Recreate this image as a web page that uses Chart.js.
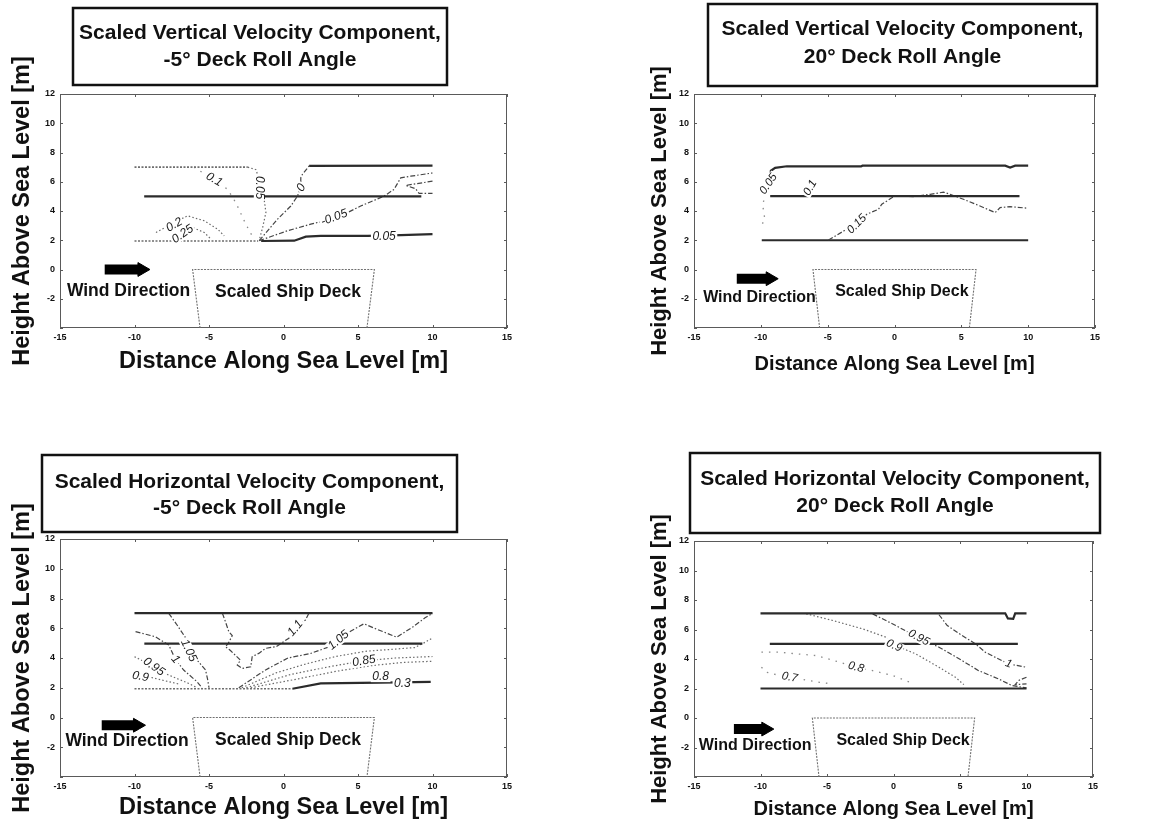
<!DOCTYPE html>
<html>
<head>
<meta charset="utf-8">
<script src="https://cdn.jsdelivr.net/npm/chart.js@4.4.1/dist/chart.umd.min.js"></script>
<style>
  html, body { margin: 0; padding: 0; background: #fff; }
  body { width: 1161px; height: 827px; position: relative; overflow: hidden; }
  .panel { position: absolute; }
</style>
</head>
<body>
<div class="panel" style="left:0px;top:0px"><canvas id="c1" width="580" height="413"></canvas></div>
<div class="panel" style="left:580px;top:0px"><canvas id="c2" width="581" height="413"></canvas></div>
<div class="panel" style="left:0px;top:413px"><canvas id="c3" width="580" height="414"></canvas></div>
<div class="panel" style="left:580px;top:413px"><canvas id="c4" width="581" height="414"></canvas></div>
<script>
// ---------------- shared axes ----------------
const xRange = [-15, 15];
const yRange = [-4, 12];
const xTickStep = 5;
const yTickStep = 2;
const yHiddenTick = -4;
const xAxisTitle = 'Distance Along Sea Level [m]';
const yAxisTitle = 'Height Above Sea Level [m]';
const deckOutline = [[-5.6, -4], [-6.1, 0], [6.1, 0], [5.6, -4]];
const windText = 'Wind Direction';
const deckText = 'Scaled Ship Deck';

// ---------------- panel 1 : vertical, -5 deg ----------------
const v5Title = ['Scaled Vertical Velocity Component,', '-5\u00B0 Deck Roll Angle'];
const v5TopLeft = [[-10, 7.0], [-2.4, 7.0]];
const v5C005a = [[-2.4, 7.0], [-1.85, 6.83], [-1.63, 6.15], [-1.5, 5.5], [-1.3, 4.8], [-1.18, 3.9], [-1.4, 2.87], [-1.63, 2.0]];
const v5C010 = [[-6.0, 7.0], [-5.4, 6.6], [-4.65, 6.15], [-3.75, 5.48], [-3.2, 4.57], [-2.53, 3.1], [-1.97, 2.05]];
const v5C020 = [[-8.56, 2.53], [-7.55, 3.1], [-6.44, 3.67], [-5.32, 3.33], [-4.42, 2.76], [-3.98, 2.3]];
const v5C025 = [[-7.55, 1.97], [-6.8, 2.45], [-6.1, 2.87], [-5.32, 2.53], [-4.87, 2.08]];
const v5BottomLeft = [[-10, 1.95], [-1.7, 1.95]];
const v5Mid = [[-9.35, 5.0], [9.25, 5.0]];
const v5C000 = [[-1.63, 1.97], [-0.4, 3.44], [0.49, 4.34], [0.94, 5.02], [1.16, 5.7], [1.16, 6.27], [1.27, 6.5], [1.72, 7.08]];
const v5TopRight = [[1.72, 7.08], [10, 7.1]];
const v5CM005 = [[-1.63, 1.97], [0.27, 2.65], [1.83, 3.1], [3.62, 3.55], [5.18, 4.34], [6.75, 5.02], [7.42, 5.48], [7.87, 6.27], [8.54, 6.38], [10, 6.6]];
const v5CM010 = [[10, 6.04], [8.2, 5.75], [8.87, 5.52], [9.1, 5.2], [10, 5.2]];
const v5C005b = [[-1.5, 1.95], [0.72, 1.97], [1.5, 2.25], [2.5, 2.3], [5.63, 2.3], [7.87, 2.35], [10, 2.42]];
const v5LabelText = ['0.1', '0.05', '0', '0.2', '0.25', '-0.05', '0.05'];
const v5LabelPos = [[-4.65, 6.15], [-1.63, 5.6], [1.2, 5.6], [-7.33, 3.05], [-6.77, 2.42], [3.4, 3.55], [6.75, 2.26]];
const v5Arrow = [[-12, 0], [-9.5, 0]];
const v5WindPos = [-10.4, -1.5];
const v5DeckPos = [0.3, -1.54];

// ---------------- panel 2 : vertical, 20 deg ----------------
const v20Title = ['Scaled Vertical Velocity Component,', '20\u00B0 Deck Roll Angle'];
const v20Top = [[-9.3, 6.72], [-8.93, 6.95], [-8.05, 7.06], [-2.5, 7.05], [-2.4, 7.1], [8.28, 7.1], [8.65, 6.97], [9.03, 7.1], [10, 7.1]];
const v20C005 = [[-9.3, 6.72], [-9.5, 6.0], [-9.7, 5.2], [-9.85, 4.34], [-9.7, 3.44], [-9.9, 3.1]];
const v20Mid = [[-9.3, 5.02], [9.35, 5.02]];
const v20C015 = [[-4.94, 2.01], [-3.57, 2.76], [-2.82, 3.1], [-2.07, 3.78], [-1.2, 4.12], [-0.95, 4.46], [-0.2, 4.9], [0.05, 5.02], [1.42, 4.98], [2.67, 5.14], [3.67, 5.29], [4.16, 5.14], [5.16, 4.8], [6.4, 4.34], [7.53, 3.89], [7.9, 4.23], [8.65, 4.3], [10, 4.19]];
const v20Bottom = [[-9.93, 2.0], [10, 2.0]];
const v20LabelText = ['0.05', '0.1', '0.15'];
const v20LabelPos = [[-9.43, 5.85], [-6.31, 5.59], [-2.82, 3.1]];
const v20Arrow = [[-11.8, -0.63], [-9.3, -0.63]];
const v20WindPos = [-10.1, -1.9];
const v20DeckPos = [0.55, -1.54];

// ---------------- panel 3 : horizontal, -5 deg ----------------
const h5Title = ['Scaled Horizontal Velocity Component,', '-5\u00B0 Deck Roll Angle'];
const h5Top = [[-10, 7.02], [10, 7.02]];
const h5Mid = [[-9.34, 4.96], [9.32, 4.96]];
const h5BottomLeft = [[-10, 1.93], [0.6, 1.93]];
const h5BottomRight = [[0.6, 1.93], [2.5, 2.29], [6.52, 2.34], [9.88, 2.4]];
const h5C110 = [[-4.1, 7.0], [-3.9, 6.45], [-3.67, 5.77], [-3.44, 5.5], [-3.7, 5.0], [-3.9, 4.76], [-3.56, 4.5], [-2.89, 3.86], [-3.1, 3.53], [-2.77, 3.3], [-2.2, 3.41], [-2.1, 4.09], [-1.66, 4.31], [-1.2, 4.65], [-0.5, 4.76], [0.36, 5.33], [0.8, 6.0], [1.48, 6.56], [1.7, 7.0]];
const h5C105L = [[-7.7, 7.0], [-7.2, 6.3], [-6.47, 5.21], [-6.3, 4.6], [-5.8, 3.86], [-5.23, 3.19], [-5.1, 2.6], [-5.0, 2.0]];
const h5C100 = [[-9.93, 5.77], [-8.6, 5.43], [-7.7, 4.87], [-7.25, 3.9], [-6.7, 3.19], [-5.8, 2.4], [-5.47, 2.0]];
const h5C095 = [[-10, 4.09], [-8.7, 3.41], [-7.7, 2.85], [-6.36, 2.29], [-5.8, 2.0]];
const h5C090 = [[-9.1, 2.75], [-8.14, 2.51], [-7.0, 2.25]];
const h5C105R = [[-3.0, 2.0], [-1.2, 3.2], [0.3, 4.0], [1.8, 4.3], [3.2, 4.8], [3.7, 5.2], [4.5, 5.8], [5.4, 6.3], [6.1, 6.0], [7.6, 5.4], [8.7, 6.1], [9.5, 6.7], [10, 7.0]];
const h5Fan1 = [[-2.8, 2.0], [-0.5, 3.0], [1.5, 3.6], [3.5, 4.1], [5.5, 4.45], [7.5, 4.6], [8.8, 4.7], [9.4, 5.0], [10, 5.35]];
const h5Fan2 = [[-2.5, 2.0], [0.5, 2.9], [3.0, 3.4], [5.3, 3.8], [7.5, 4.0], [10, 4.1]];
const h5Fan3 = [[-2.2, 2.0], [1.0, 2.6], [3.5, 3.1], [6.0, 3.5], [8.0, 3.7], [10, 3.78]];
const h5LabelText = ['1.1', '1.05', '1', '0.95', '0.9', '1.05', '0.85', '0.8', '0.3'];
const h5LabelPos = [[0.8, 6.0], [-6.36, 4.5], [-7.25, 3.9], [-8.7, 3.41], [-9.6, 2.75], [3.7, 5.2], [5.4, 3.8], [6.52, 2.74], [7.98, 2.29]];
const h5Arrow = [[-12.2, -0.52], [-9.8, -0.52]];
const h5WindPos = [-10.5, -1.57];
const h5DeckPos = [0.3, -1.53];

// ---------------- panel 4 : horizontal, 20 deg ----------------
const h20Title = ['Scaled Horizontal Velocity Component,', '20\u00B0 Deck Roll Angle'];
const h20Top = [[-10, 7.1], [8.4, 7.1], [8.6, 6.75], [9.0, 6.72], [9.15, 7.1], [10, 7.1]];
const h20Mid = [[-9.3, 5.03], [9.35, 5.03]];
const h20Bottom = [[-10, 2.0], [10, 2.0]];
const h20C100 = [[3.42, 7.0], [4.04, 6.27], [5.16, 5.59], [6.16, 5.03], [6.9, 4.46], [8.15, 3.89], [8.65, 3.67], [10, 3.44]];
const h20C100b = [[10, 2.76], [9.4, 2.54], [9.15, 2.26], [10, 2.31]];
const h20C095 = [[-1.57, 7.06], [0.17, 6.27], [1.8, 5.48], [3.42, 4.8], [5.16, 3.89], [6.4, 3.21], [7.9, 2.65], [8.9, 2.2], [10, 2.04]];
const h20C090 = [[-6.56, 7.06], [-4.56, 6.61], [-2.32, 6.04], [-0.57, 5.48], [0.05, 4.95], [1.67, 4.35], [3.42, 3.44], [4.66, 2.76], [5.29, 2.26]];
const h20C080 = [[-9.93, 4.46], [-8.55, 4.46], [-7.3, 4.35], [-5.8, 4.23], [-4.5, 3.9], [-2.82, 3.44], [-1.57, 3.21], [-0.07, 2.88], [1.42, 2.35]];
const h20C070 = [[-9.93, 3.44], [-9.55, 3.1], [-8.55, 2.88], [-7.8, 2.76], [-5.56, 2.42], [-4.56, 2.31]];
const h20LabelText = ['0.95', '0.9', '0.8', '0.7', '1'];
const h20LabelPos = [[1.9, 5.45], [0.05, 4.9], [-2.82, 3.44], [-7.8, 2.76], [8.65, 3.67]];
const h20Arrow = [[-12, -0.75], [-9.6, -0.75]];
const h20WindPos = [-10.4, -1.88];
const h20DeckPos = [0.72, -1.54];

// ---------------- styles (not data) ----------------
const FONT = "'Liberation Sans', Arial, Helvetica, sans-serif";
const STYLES = {
  plane:     { color: '#2b2b2b', width: 2.2, dash: [] },
  planeGray: { color: '#6e6e6e', width: 1.6, dash: [2, 1.5] },
  dot:       { color: '#6a6a6a', width: 1.2, dash: [1.5, 2.2] },
  dash:      { color: '#454545', width: 1.2, dash: [5, 2, 1.5, 2] },
  sparse:    { color: '#8a8a8a', width: 1.3, dash: [1.5, 6] },
  deck:      { color: '#707070', width: 1.1, dash: [2, 1.2] }
};

const PANELS = [
  { id: 'c1', title: v5Title,
    pad: { left: 0, right: 73, top: 94, bottom: 37 }, yW: 60, xH: 48,
    xFont: 23.5, yFont: 23.5, yTitlePad: 8, box: [73, 8, 447, 85], titleBase: [39, 66], textFont: 17.5, labelFont: 12,
    lines: [[v5TopLeft, 'planeGray'], [v5C005a, 'dot'], [v5C010, 'sparse'], [v5C020, 'dot'], [v5C025, 'dot'],
            [v5BottomLeft, 'planeGray'], [v5Mid, 'plane'], [v5C000, 'dash'], [v5TopRight, 'plane'],
            [v5CM005, 'dash'], [v5CM010, 'dash'], [v5C005b, 'plane']],
    labelText: v5LabelText, labelPos: v5LabelPos, labelAngle: [30, 90, -60, -30, -35, -20, 0],
    arrow: v5Arrow, windPos: v5WindPos, deckPos: v5DeckPos },
  { id: 'c2', title: v20Title,
    pad: { left: 0, right: 66, top: 94, bottom: 37 }, yW: 114, xH: 48,
    xFont: 20, yFont: 22, yTitlePad: 67, box: [128, 4, 517, 86], titleBase: [35, 63], textFont: 16, labelFont: 11.5,
    lines: [[v20Top, 'plane'], [v20C005, 'sparse'], [v20Mid, 'plane'], [v20C015, 'dash'], [v20Bottom, 'plane']],
    labelText: v20LabelText, labelPos: v20LabelPos, labelAngle: [-55, -60, -45],
    arrow: v20Arrow, windPos: v20WindPos, deckPos: v20DeckPos },
  { id: 'c3', title: h5Title,
    pad: { left: 0, right: 73, top: 126, bottom: 5 }, yW: 60, xH: 45,
    xFont: 23.5, yFont: 23.5, yTitlePad: 8, box: [42, 42, 457, 119], titleBase: [74.5, 100.5], textFont: 17.5, labelFont: 12,
    lines: [[h5Top, 'plane'], [h5Mid, 'plane'], [h5BottomLeft, 'planeGray'], [h5BottomRight, 'plane'],
            [h5C110, 'dash'], [h5C105L, 'dash'], [h5C100, 'dash'], [h5C095, 'dot'], [h5C090, 'dot'],
            [h5C105R, 'dash'], [h5Fan1, 'dot'], [h5Fan2, 'dot'], [h5Fan3, 'dot']],
    labelText: h5LabelText, labelPos: h5LabelPos, labelAngle: [-50, 65, 50, 35, 10, -40, -10, 0, 0],
    arrow: h5Arrow, windPos: h5WindPos, deckPos: h5DeckPos },
  { id: 'c4', title: h20Title,
    pad: { left: 0, right: 68, top: 128, bottom: 6 }, yW: 114, xH: 44,
    xFont: 20, yFont: 22, yTitlePad: 67, box: [110, 40, 520, 120], titleBase: [71.5, 98.5], textFont: 16, labelFont: 11.5,
    lines: [[h20Top, 'plane'], [h20Mid, 'plane'], [h20Bottom, 'plane'], [h20C100, 'dash'], [h20C100b, 'dash'],
            [h20C095, 'dash'], [h20C090, 'dot'], [h20C080, 'sparse'], [h20C070, 'sparse']],
    labelText: h20LabelText, labelPos: h20LabelPos, labelAngle: [28, 25, 15, 10, 20],
    arrow: h20Arrow, windPos: h20WindPos, deckPos: h20DeckPos }
];

function pts(arr) { return arr.map(p => ({ x: p[0], y: p[1] })); }

const framePlugin = {
  id: 'frameTicks',
  beforeDatasetsDraw(chart) {
    const { ctx, chartArea: a, scales: { x, y } } = chart;
    ctx.save();
    ctx.strokeStyle = '#5a5a5a';
    ctx.lineWidth = 1;
    ctx.setLineDash([]);
    ctx.strokeRect(a.left + 0.5, a.top + 0.5, a.right - a.left - 1, a.bottom - a.top - 1);
    const tl = 3;
    ctx.beginPath();
    x.ticks.forEach(t => {
      const px = Math.round(x.getPixelForValue(t.value)) + 0.5;
      ctx.moveTo(px, a.bottom); ctx.lineTo(px, a.bottom - tl);
      ctx.moveTo(px, a.top); ctx.lineTo(px, a.top + tl);
    });
    y.ticks.forEach(t => {
      const py = Math.round(y.getPixelForValue(t.value)) + 0.5;
      ctx.moveTo(a.left, py); ctx.lineTo(a.left + tl, py);
      ctx.moveTo(a.right, py); ctx.lineTo(a.right - tl, py);
    });
    ctx.stroke();
    ctx.restore();
  }
};

const annotPlugin = {
  id: 'annot',
  afterDatasetsDraw(chart) {
    const P = chart.options.plugins.annot;
    const { ctx, scales: { x, y } } = chart;
    ctx.save();
    ctx.font = 'italic ' + P.labelFont + 'px ' + FONT;
    ctx.textAlign = 'center';
    ctx.textBaseline = 'middle';
    P.labelText.forEach((t, i) => {
      const px = x.getPixelForValue(P.labelPos[i][0]);
      const py = y.getPixelForValue(P.labelPos[i][1]);
      ctx.save();
      ctx.translate(px, py);
      ctx.rotate(P.labelAngle[i] * Math.PI / 180);
      const w = ctx.measureText(t).width;
      ctx.fillStyle = '#fff';
      ctx.fillRect(-w / 2 - 1.5, -P.labelFont * 0.45, w + 3, P.labelFont * 0.9);
      ctx.fillStyle = '#1a1a1a';
      ctx.fillText(t, 0, 0);
      ctx.restore();
    });
    ctx.font = 'bold ' + P.textFont + 'px ' + FONT;
    ctx.fillStyle = '#111';
    ctx.fillText(windText, x.getPixelForValue(P.windPos[0]), y.getPixelForValue(P.windPos[1]));
    ctx.fillText(deckText, x.getPixelForValue(P.deckPos[0]), y.getPixelForValue(P.deckPos[1]));
    ctx.restore();
  },
  afterDraw(chart) {
    const P = chart.options.plugins.annot;
    const ctx = chart.ctx;
    const [x0, y0, x1, y1] = P.box;
    ctx.save();
    ctx.strokeStyle = '#111';
    ctx.lineWidth = 2.5;
    ctx.strokeRect(x0, y0, x1 - x0, y1 - y0);
    ctx.font = 'bold 21px ' + FONT;
    ctx.fillStyle = '#111';
    ctx.textAlign = 'center';
    ctx.textBaseline = 'alphabetic';
    const cx = (x0 + x1) / 2;
    ctx.fillText(P.title[0], cx, P.titleBase[0]);
    ctx.fillText(P.title[1], cx, P.titleBase[1]);
    ctx.restore();
  }
};

PANELS.forEach(P => {
  const datasets = P.lines.map(([arr, st]) => ({
    data: pts(arr), showLine: true, pointRadius: 0, tension: 0,
    borderColor: STYLES[st].color, borderWidth: STYLES[st].width, borderDash: STYLES[st].dash,
    fill: false
  }));
  datasets.push({
    data: pts(deckOutline), showLine: true, pointRadius: 0, tension: 0,
    borderColor: STYLES.deck.color, borderWidth: STYLES.deck.width, borderDash: STYLES.deck.dash, fill: false
  });
  datasets.push({
    data: pts(P.arrow), showLine: true, pointRadius: 0, borderColor: '#000', borderWidth: 10,
    borderCapStyle: 'butt', fill: false
  });
  datasets.push({
    data: pts([P.arrow[1]]), showLine: false, pointStyle: 'triangle', rotation: 90,
    pointRadius: 8, backgroundColor: '#000', borderColor: '#000', borderWidth: 1
  });

  new Chart(document.getElementById(P.id), {
    type: 'scatter',
    data: { datasets },
    options: {
      responsive: false,
      animation: false,
      devicePixelRatio: 1,
      events: [],
      layout: { padding: P.pad },
      plugins: {
        legend: { display: false },
        tooltip: { enabled: false },
        annot: P
      },
      scales: {
        x: {
          type: 'linear', min: xRange[0], max: xRange[1],
          grid: { display: false, drawTicks: false },
          border: { display: false },
          ticks: { stepSize: xTickStep, padding: 4, maxRotation: 0, autoSkip: false,
                   color: '#111', font: { family: FONT, size: 9, weight: 'bold' } },
          title: { display: true, text: xAxisTitle, color: '#111', padding: { top: 0, bottom: 0 },
                   font: { family: FONT, size: P.xFont, weight: 'bold' } },
          afterFit(s) { s.height = P.xH; }
        },
        y: {
          type: 'linear', min: yRange[0], max: yRange[1],
          grid: { display: false, drawTicks: false },
          border: { display: false },
          ticks: { stepSize: yTickStep, padding: 5, color: '#111',
                   font: { family: FONT, size: 9, weight: 'bold' },
                   callback: v => (v === yHiddenTick ? '' : v) },
          title: { display: true, text: yAxisTitle, color: '#111', padding: { top: P.yTitlePad, bottom: 0 },
                   font: { family: FONT, size: P.yFont, weight: 'bold' } },
          afterFit(s) { s.width = P.yW; }
        }
      }
    },
    plugins: [framePlugin, annotPlugin]
  });
});
</script>
</body>
</html>
